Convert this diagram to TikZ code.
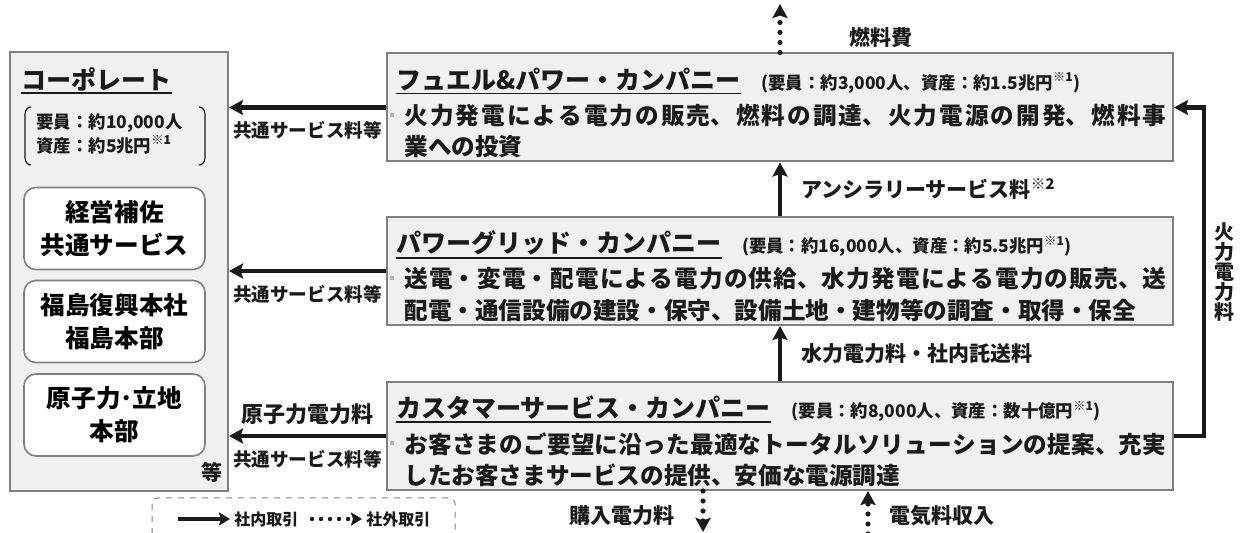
\documentclass[tikz,border=0pt]{standalone}
\usepackage{fontspec}
\setmainfont{Noto Sans CJK JP}
\usetikzlibrary{arrows.meta}
\usetikzlibrary{positioning}
\definecolor{boxfill}{HTML}{F0F0F0}
\definecolor{boxline}{HTML}{808080}
\definecolor{ink}{HTML}{1A1A1A}
\newcommand{\note}[1]{\textsuperscript{※#1}}
\XeTeXlinebreaklocale "ja"
\XeTeXlinebreakskip=0pt plus 3pt

\tikzset{
  corpbox/.style={draw=boxline,fill=boxfill,line width=1pt,minimum width=109pt,minimum height=219.5pt,inner sep=0pt},
  company/.style={draw=boxline,fill=boxfill,line width=1pt,minimum width=393pt,minimum height=54pt,inner sep=0pt},
  unitbox/.style={draw=boxline,fill=white,line width=0.8pt,rounded corners=6pt,minimum width=90.5pt,minimum height=41pt,align=center,font=\bfseries\fontsize{12.3}{16.5}\selectfont},
  titletext/.style={inner sep=0pt,text=ink,font=\bfseries\fontsize{12.5}{15}\selectfont},
  infotext/.style={inner sep=0pt,text=ink,font=\bfseries\fontsize{8.7}{10}\selectfont},
  bodytext/.style={inner sep=0pt,text=ink,text width=381pt,align=justify,font=\bfseries\fontsize{11.8}{15.7}\selectfont},
  bulletdot/.style={fill=boxline!60,minimum size=2pt,inner sep=0pt},
  fee/.style={inner sep=1pt,text=ink,font=\bfseries\fontsize{9.3}{11}\selectfont},
  bigfee/.style={inner sep=1pt,text=ink,font=\bfseries\fontsize{10.5}{10}\selectfont},
  legtext/.style={inner sep=2pt,text=ink,font=\bfseries\fontsize{8}{9}\selectfont},
  flow/.style={draw=ink,line width=2.2pt,-{Stealth[length=7pt,width=7.5pt,inset=1.2pt]}},
  outflow/.style={draw=ink,line width=2.6pt,line cap=round,dash pattern=on 0pt off 5pt,-{Stealth[length=7pt,width=7.5pt,inset=1.2pt]}},
  bracket/.style={draw=ink,line width=0.6pt},
  legendbox/.style={draw=boxline,line width=0.5pt,dashed,rounded corners=3pt}
}

\begin{document}
\begin{tikzpicture}[x=0.5pt,y=-0.5pt]
  \useasboundingbox (0,0) rectangle (1242,533);

  \node[corpbox,anchor=north west] (corp) at (9,51) {};
  \node[titletext,anchor=west] (corptitle) at (21,79) {コーポレート};
  \node[infotext,anchor=north west,align=left,font=\bfseries\fontsize{8.7}{12}\selectfont] (corpinfo) at (36,113) {要員：約10,000人\\資産：約5兆円\note{1}};
  \draw[bracket] (31,107) to[out=180,in=90] (25,114) -- (25,158) to[out=-90,in=180] (31,165);
  \draw[bracket] (199,107) to[out=0,in=90] (205,114) -- (205,158) to[out=-90,in=0] (199,165);
  \node[unitbox] (support) at (114.5,228.5) {経営補佐\\共通サービス};
  \node[unitbox] (fukushima) at (114.5,321.5) {福島復興本社\\福島本部};
  \node[unitbox] (nuclear) at (114.5,415) {原子力･立地\\本部};
  \node[bigfee] (corpetc) at (212,472) {等};

  \node[company] (fuel) at (780,107.5) {};
  \node[company] (grid) at (780,271) {};
  \node[company] (cust) at (780,436) {};

  \node[titletext,anchor=west,xshift=5pt,yshift=-13.5pt] (fueltitle) at (fuel.north west) {フュエル\&パワー・カンパニー};
  \node[infotext,anchor=base west,xshift=10pt] (fuelinfo) at (fueltitle.base east) {(要員：約3,000人、資産：約1.5兆円\note{1})};
  \node[bodytext,anchor=north west,xshift=9pt,yshift=-25.6pt] (fueltext) at (fuel.north west) {\noindent 火力発電による電力の販売、燃料の調達、火力電源の開発、燃料事\linebreak 業への投資};
  \node[bulletdot] (fuelbullet) at ([xshift=-6pt,yshift=-5.5pt]fueltext.north west) {};

  \node[titletext,anchor=west,xshift=5pt,yshift=-13.5pt] (gridtitle) at (grid.north west) {パワーグリッド・カンパニー};
  \node[infotext,anchor=base west,xshift=10pt] (gridinfo) at (gridtitle.base east) {(要員：約16,000人、資産：約5.5兆円\note{1})};
  \node[bodytext,anchor=north west,xshift=9pt,yshift=-25.6pt] (gridtext) at (grid.north west) {\noindent 送電・変電・配電による電力の供給、水力発電による電力の販売、送\linebreak 配電・通信設備の建設・保守、設備土地・建物等の調査・取得・保全};
  \node[bulletdot] (gridbullet) at ([xshift=-6pt,yshift=-5.5pt]gridtext.north west) {};

  \node[titletext,anchor=west,xshift=5pt,yshift=-13.5pt] (custtitle) at (cust.north west) {カスタマーサービス・カンパニー};
  \node[infotext,anchor=base west,xshift=10pt] (custinfo) at (custtitle.base east) {(要員：約8,000人、資産：数十億円\note{1})};
  \node[bodytext,anchor=north west,xshift=9pt,yshift=-25.6pt] (custtext) at (cust.north west) {\noindent お客さまのご要望に沿った最適なトータルソリューションの提案、充実\linebreak したお客さまサービスの提供、安価な電源調達};
  \node[bulletdot] (custbullet) at ([xshift=-6pt,yshift=-5.5pt]custtext.north west) {};

  \foreach \t in {corptitle,fueltitle,gridtitle,custtitle}
    \draw[draw=ink,line width=0.9pt] ([yshift=-1pt]\t.south west) -- ([yshift=-1pt]\t.south east);

  \draw[flow] (fuel.west) -- node[fee,below=5pt] (fuelfee) {共通サービス料等} (fuel.west -| corp.east);
  \draw[flow] (grid.west) -- node[fee,below=5pt] (gridfee) {共通サービス料等} (grid.west -| corp.east);
  \draw[flow] (cust.west) -- node[bigfee,font=\bfseries\fontsize{11}{12}\selectfont,above=3.5pt] (nuclearfee) {原子力電力料}
    node[fee,below=5pt] (custfee) {共通サービス料等} (cust.west -| corp.east);

  \draw[flow] (grid.north) -- node[bigfee,right=8.5pt] (ancillary) {アンシラリーサービス料\note{2}} (fuel.south);
  \draw[flow] (cust.north) -- node[bigfee,right=8.5pt] (hydro) {水力電力料・社内託送料} (grid.south);
  \draw[flow] (cust.east) -- ++(30,0) |- node[bigfee,pos=0.25,right=3pt,align=center,font=\bfseries\fontsize{10}{10}\selectfont] (thermal) {火\\力\\電\\力\\料} (fuel.east);

  \coordinate (fuelcost) at (780,4);
  \draw[outflow] (fuel.north) -- (fuelcost);
  \node[bigfee] (fuelcostlbl) at (881,38) {燃料費};

  \coordinate (buyout) at (703,532);
  \draw[outflow] (buyout |- cust.south) -- (buyout);
  \node[bigfee] (buyoutlbl) at (622,516) {購入電力料};
  \coordinate (salesin) at (868,534);
  \draw[outflow] (salesin) -- (salesin |- cust.south);
  \node[bigfee] (salesinlbl) at (942,516) {電気料収入};

  \draw[legendbox] (152,498) rectangle (455,560);
  \coordinate (legin) at (178,519);
  \node[legtext,anchor=west] (legintext) at (230,519) {社内取引};
  \draw[flow,line width=2pt,-{Stealth[length=5.5pt,width=6.5pt,inset=1pt]}] (legin) -- (legintext.west);
  \coordinate (legout) at (312,519);
  \node[legtext,anchor=west] (legouttext) at (362,519) {社外取引};
  \draw[outflow,line width=2.2pt,dash pattern=on 0pt off 4.5pt,-{Stealth[length=5.5pt,width=6.5pt,inset=1pt]}] (legout) -- (legouttext.west);
\end{tikzpicture}
\end{document}
